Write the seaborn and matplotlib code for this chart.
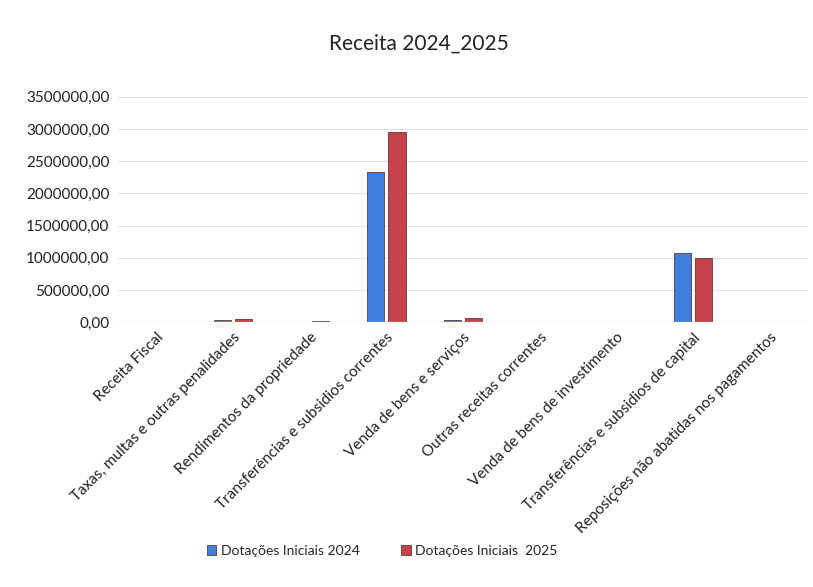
import numpy as np
import pandas as pd
import matplotlib
matplotlib.use("Agg")
import matplotlib.pyplot as plt
import seaborn as sns

categorias = ["Receita Fiscal",
              "Taxas, multas e outras penalidades",
              "Rendimentos da propriedade",
              "Transferências e subsidios correntes",
              "Venda de bens e serviços",
              "Outras receitas correntes",
              "Venda de bens de investimento",
              "Transferências e subsidios de capital",
              "Reposições não abatidas nos pagamentos"]
dotacoes_2024 = [0, 38000, 6000, 2330000, 35000, 0, 0, 1070000, 0]
dotacoes_2025 = [0, 50000, 20000, 2950000, 60000, 0, 0, 1005000, 0]
series = ["Dotações Iniciais 2024", "Dotações Iniciais  2025"]

df = pd.DataFrame({
    "categoria": categorias * 2,
    "valor": dotacoes_2024 + dotacoes_2025,
    "serie": [series[0]] * len(categorias) + [series[1]] * len(categorias),
})

sns.set_theme(style="white")
plt.rcParams['font.family'] = ['Lato', 'DejaVu Sans']

fig = plt.figure(figsize=(8.13, 5.87), dpi=100)
ax = fig.add_axes([0.145, 0.451, 0.849, 0.384])

sns.barplot(data=df, x="categoria", y="valor", hue="serie",
            palette=["#3f7fde", "#c8424c"], saturation=1, width=0.56, gap=0.2,
            edgecolor="#6a3535", linewidth=0.6, ax=ax)

ax.set_ylim(0, 3500000)
ax.set_yticks(np.arange(0, 3500001, 500000))
ax.set_yticklabels([f"{int(v)},00" for v in np.arange(0, 3500001, 500000)],
                   fontsize=11, color="#222222")
ax.set_xlim(-0.5, len(categorias) - 0.5)
ax.set_xticks(range(len(categorias)))
ax.set_xticklabels(categorias, rotation=45, ha="right", rotation_mode="anchor",
                   fontsize=11, color="#222222")
ax.tick_params(axis="both", length=0, pad=6)
ax.yaxis.grid(True, color="#e3e3e3", linewidth=0.9)
ax.set_axisbelow(True)
for s in ax.spines.values():
    s.set_visible(False)
ax.axhline(0, color="#d0d0d0", linewidth=0.9)
ax.set_xlabel("")
ax.set_ylabel("")

fig.text(0.515, 0.925, "Receita 2024_2025", ha="center", va="center",
         fontsize=15, color="#222222")

handles, labels = ax.get_legend_handles_labels()
ax.legend_.remove()
fig.legend(handles, labels, loc="center", bbox_to_anchor=(0.47, 0.062), ncol=2,
           frameon=False, fontsize=10, handlelength=0.7, handleheight=0.7,
           handletextpad=0.3, columnspacing=3.0)

fig.savefig("out.png", dpi=100)
